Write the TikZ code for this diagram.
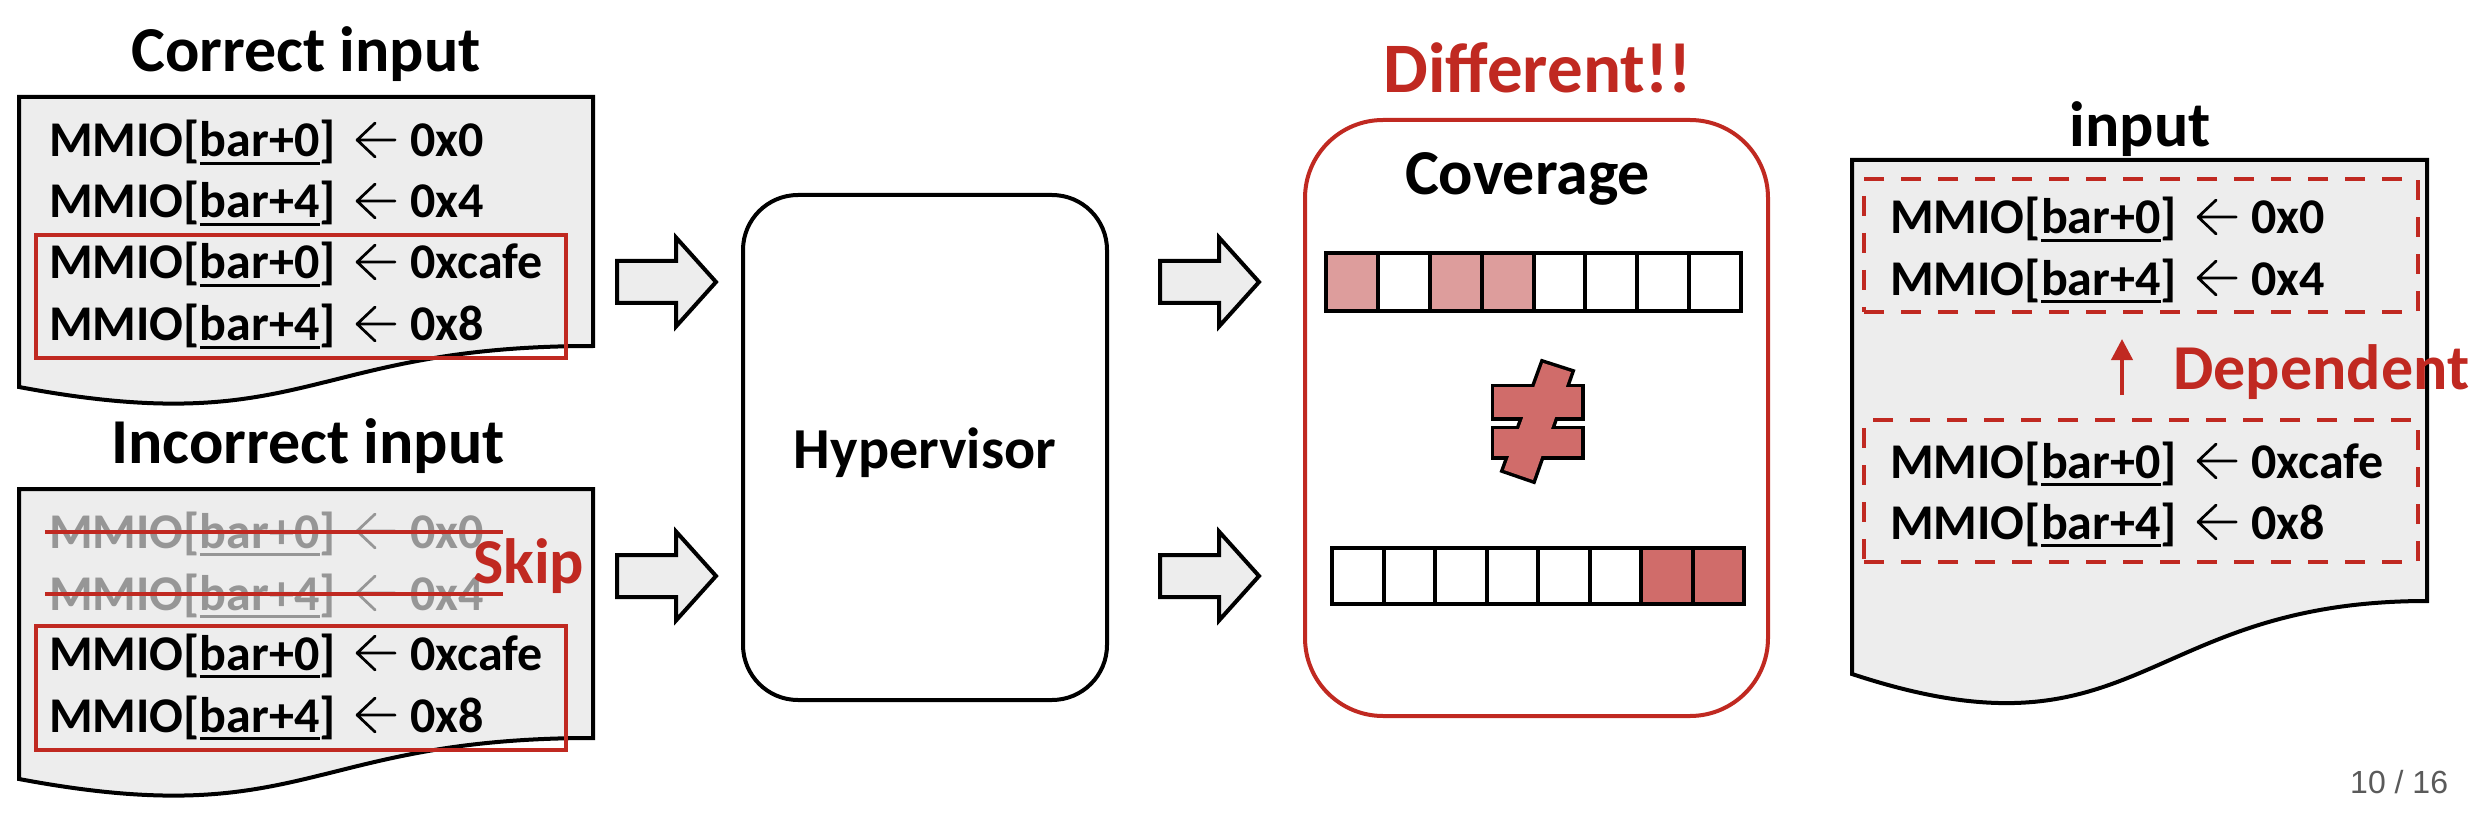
\documentclass[tikz,border=0pt]{standalone}
\usepackage{fontspec}
\usepackage{graphicx}
\setmainfont{Carlito}
\newfontfamily\pgnumfont{Liberation Sans}
\usetikzlibrary{arrows.meta}
\definecolor{myred}{RGB}{192,41,33}
\definecolor{docgray}{RGB}{237,237,237}
\definecolor{skipgray}{RGB}{150,150,150}
\definecolor{celllight}{RGB}{221,157,156}
\definecolor{celldark}{RGB}{208,108,106}
\definecolor{pggray}{RGB}{90,90,90}
\newcommand\ulbox[1]{\setbox0\hbox{#1}\rlap{\rule[-0.16em]{\wd0}{0.055em}}\box0}
\newcommand\larr{\tikz[baseline=0pt,x=1em,y=1em]\draw[line width=0.055em,line cap=round,line join=round] (0.76,0.34)--(0,0.34) (0.36,0.68)--(0,0.34)--(0.36,0);}
\newcommand\mmio[2]{MMIO[\ulbox{bar+#1}]\hspace{0.4em}\larr\hspace{0.28em}#2}
\tikzset{
  codeline/.style={anchor=base west, inner sep=0pt, font=\fontsize{50}{60}\selectfont\bfseries},
  titletext/.style={anchor=base, inner sep=0pt, font=\fontsize{64}{76}\selectfont\bfseries},
  redtext/.style={anchor=base west, inner sep=0pt, text=myred, font=\fontsize{64}{76}\selectfont\bfseries},
  docshape/.style={draw=black, fill=docgray, line width=4pt, line join=miter},
  redbox/.style={draw=myred, line width=4pt},
  dashbox/.style={draw=myred, line width=4pt, dash pattern=on 20pt off 17pt, inner sep=0pt},
  cellbox/.style={draw=black, line width=4pt},
  blockarr/.pic={\draw[draw=black, fill=docgray, line width=4pt, line join=miter]
     (0,-21)--(59,-21)--(59,-44.5)--(99,0)--(59,44.5)--(59,21)--(0,21)--cycle;}
}
\begin{document}
\begin{tikzpicture}[x=1pt,y=-1pt]
\useasboundingbox (0,0) rectangle (2476,818);
\fill[white] (0,0) rectangle (2476,818);

% ---------- left documents ----------
\node[titletext] (t1) at (306,72) {Correct input};
\draw[docshape] (19,97) -- (593,97) -- (593,346) .. controls (306,346) and (306,441) .. (19,387) -- cycle;
\node[codeline] (c1) at (49,157) {\mmio{0}{0x0}};
\node[codeline] (c2) at (49,218) {\mmio{4}{0x4}};
\node[codeline] (c3) at (49,279) {\mmio{0}{0xcafe}};
\node[codeline] (c4) at (49,341) {\mmio{4}{0x8}};
\draw[redbox] (36,235) rectangle (566,358);

\node[titletext] (t2) at (308,463) {Incorrect input};
\draw[docshape] (19,489) -- (593,489) -- (593,738) .. controls (306,738) and (306,833) .. (19,779) -- cycle;
\node[codeline, text=skipgray] (i1) at (49,548) {\mmio{0}{0x0}};
\node[codeline, text=skipgray] (i2) at (49,610) {\mmio{4}{0x4}};
\node[codeline] (i3) at (49,670) {\mmio{0}{0xcafe}};
\node[codeline] (i4) at (49,732) {\mmio{4}{0x8}};
\draw[myred, line width=4pt] (45,532) -- (503,532);
\draw[myred, line width=4pt] (45,594) -- (503,594);
\node[redtext] (skip) at (473,583) {Skip};
\draw[redbox] (36,626) rectangle (566,750);

% ---------- block arrows ----------
\pic at (617,282) {blockarr};
\pic at (617,576) {blockarr};
\pic at (1160,282) {blockarr};
\pic at (1160,576) {blockarr};

% ---------- hypervisor ----------
\node[draw=black, line width=4pt, rounded corners=55pt, minimum width=364pt, minimum height=505pt, inner sep=0pt] (hv) at (925,447.5) {};
\node[anchor=base, inner sep=0pt, font=\fontsize{58}{70}\selectfont\bfseries] (hvl) at (925,468) {Hypervisor};

% ---------- coverage ----------
\node[anchor=base, inner sep=0pt, text=myred, font=\fontsize{71}{85}\selectfont\bfseries] (diff) at (1537.5,93) {Different!!};
\node[draw=myred, line width=4pt, rounded corners=78pt, minimum width=463pt, minimum height=596pt, inner sep=0pt] (cov) at (1536.5,418) {};
\node[titletext] (covl) at (1527.5,195) {Coverage};
\foreach \i/\c in {0/celllight,1/white,2/celllight,3/celllight,4/white,5/white,6/white,7/white}
  \draw[cellbox, fill=\c] ({1326+\i*51.875},253) rectangle ({1326+(\i+1)*51.875},311);
\foreach \i/\c in {0/white,1/white,2/white,3/white,4/white,5/white,6/celldark,7/celldark}
  \draw[cellbox, fill=\c] ({1332+\i*51.5},548) rectangle ({1332+(\i+1)*51.5},604);
% not-equal sign
\draw[black, line width=7pt, line join=miter] (1494,387) rectangle (1581,417);
\draw[black, line width=7pt, line join=miter] (1494,429) rectangle (1581,456);
\draw[black, line width=7pt, line join=miter] (1543,363) -- (1571,372) -- (1533,480) -- (1504,470) -- cycle;
\fill[celldark] (1494,387) rectangle (1581,417);
\fill[celldark] (1494,429) rectangle (1581,456);
\fill[celldark] (1543,363) -- (1571,372) -- (1533,480) -- (1504,470) -- cycle;

% ---------- right document ----------
\node[titletext] (t3) at (2140,147) {input};
\draw[docshape] (1852,160) -- (2427,160) -- (2427,601) .. controls (2139.5,601) and (2139.5,769) .. (1852,674) -- cycle;
\node[dashbox, minimum width=554pt, minimum height=133pt] (dep1) at (2141,245.5) {};
\node[dashbox, minimum width=554pt, minimum height=142pt] (dep2) at (2141,491) {};
\node[codeline] (r1) at (1890,234) {\mmio{0}{0x0}};
\node[codeline] (r2) at (1890,295) {\mmio{4}{0x4}};
\node[codeline] (r3) at (1890,478) {\mmio{0}{0xcafe}};
\node[codeline] (r4) at (1890,539) {\mmio{4}{0x8}};
\draw[myred, line width=4pt, -{Triangle[width=21pt,length=21pt]}]
  ([xshift=-19pt,yshift=23pt]dep2.north) -- ([xshift=-19pt,yshift=-25pt]dep1.south);
\node[redtext] (dep) at (2173,389) {Dependent};

% ---------- page number ----------
\node[anchor=base west, inner sep=0pt, text=pggray, font=\pgnumfont\fontsize{32}{38}\selectfont] (pg) at (2350,793) {10 / 16};
\end{tikzpicture}
\end{document}
